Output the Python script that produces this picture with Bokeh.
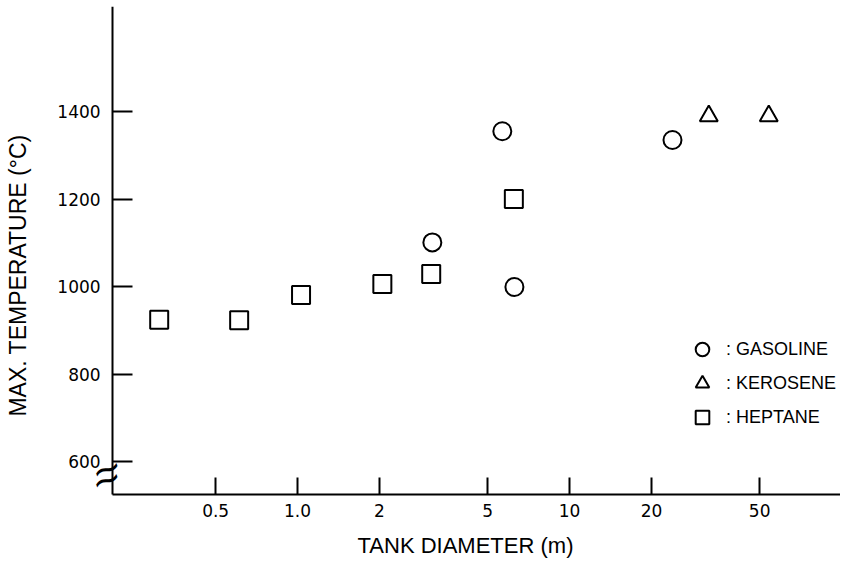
import math
from bokeh.plotting import figure
from bokeh.models import (Range1d, FixedTicker, Legend, LegendItem, Label,
                          LinearAxis, LogAxis)
from bokeh.embed import file_html
from bokeh.resources import INLINE

# ---- data ----
gasoline_d = [3.13, 5.66, 6.27, 23.9]
gasoline_t = [1101, 1355, 999, 1335]
kerosene_d = [32.5, 54.0]
kerosene_t = [1390, 1390]
heptane_d = [0.31, 0.61, 1.03, 2.05, 3.1, 6.24]
heptane_t = [924, 923, 981, 1006, 1029, 1200]

x_ticks = [0.5, 1, 2, 5, 10, 20, 50]
x_tick_labels = ["0.5", "1.0", "2", "5", "10", "20", "50"]
y_ticks = [600, 800, 1000, 1200, 1400]

X_MIN, X_MAX = 0.209, 99.1     # extent of the drawn x axis
Y_MIN, Y_MAX = 524.8, 1640.2   # extent of the drawn y axis

FONT = "Liberation Sans"
TICK_FONT = "DejaVu Sans"

p = figure(width=840, height=560, x_axis_type="log",
           x_range=Range1d(0.0809, X_MAX), y_range=Range1d(373.9, Y_MAX),
           x_axis_location=None, y_axis_location=None,
           output_backend="svg", toolbar_location=None,
           min_border_left=0, min_border_right=0,
           min_border_top=6, min_border_bottom=0)
p.outline_line_color = None
p.xgrid.visible = False
p.ygrid.visible = False
p.background_fill_color = "white"
p.border_fill_color = "white"

common = dict(size=18, fill_color=None, line_color="black", line_width=2)
r_g = p.scatter(gasoline_d, gasoline_t, marker="circle", **common)
r_k = p.scatter(kerosene_d, kerosene_t, marker="triangle", **common)
r_h = p.scatter(heptane_d, heptane_t, marker="square", **common)

ya = LinearAxis(fixed_location=X_MIN, bounds=(Y_MIN, Y_MAX))
xa = LogAxis(fixed_location=Y_MIN, bounds=(X_MIN, X_MAX))
p.add_layout(ya, "left")
p.add_layout(xa, "below")

for ax in (xa, ya):
    ax.axis_line_color = "black"
    ax.axis_line_width = 2
    ax.major_tick_line_color = "black"
    ax.major_tick_line_width = 2
    ax.major_tick_out = 0
    ax.minor_tick_line_color = None
    ax.major_label_text_font = TICK_FONT
    ax.major_label_text_font_size = "17px"
    ax.major_label_text_color = "black"

xa.ticker = FixedTicker(ticks=x_ticks)
xa.major_label_overrides = {t: s for t, s in zip(x_ticks, x_tick_labels)}
xa.major_tick_in = 17
xa.major_label_standoff = 10

ya.ticker = FixedTicker(ticks=y_ticks)
ya.major_tick_in = 20
ya.major_label_standoff = 12

p.add_layout(Label(x=17, y=285, x_units="screen", y_units="screen",
                   text="MAX. TEMPERATURE (°C)", angle=math.pi / 2,
                   text_align="center", text_baseline="middle",
                   text_font=FONT, text_font_size="23px", text_color="black"))
p.add_layout(Label(x=465, y=15, x_units="screen", y_units="screen",
                   text="TANK DIAMETER (m)",
                   text_align="center", text_baseline="middle",
                   text_font=FONT, text_font_size="22px", text_color="black"))

# axis break mark
for yy in (92, 81):
    p.add_layout(Label(x=106, y=yy, x_units="screen", y_units="screen",
                       text="~", angle=0.35, text_align="center",
                       text_baseline="middle", text_font="DejaVu Sans",
                       text_font_size="36px", text_color="black"))

legend = Legend(items=[LegendItem(label=": GASOLINE", renderers=[r_g]),
                       LegendItem(label=": KEROSENE", renderers=[r_k]),
                       LegendItem(label=": HEPTANE", renderers=[r_h])],
                location=(684, 126), orientation="vertical",
                glyph_width=36, glyph_height=34, label_height=34,
                label_standoff=6, spacing=0, padding=0, margin=0,
                border_line_color=None, background_fill_alpha=0,
                label_text_font=FONT, label_text_font_size="18px",
                label_text_color="black")
p.add_layout(legend)

open("out.html", "w").write(file_html(p, INLINE))
